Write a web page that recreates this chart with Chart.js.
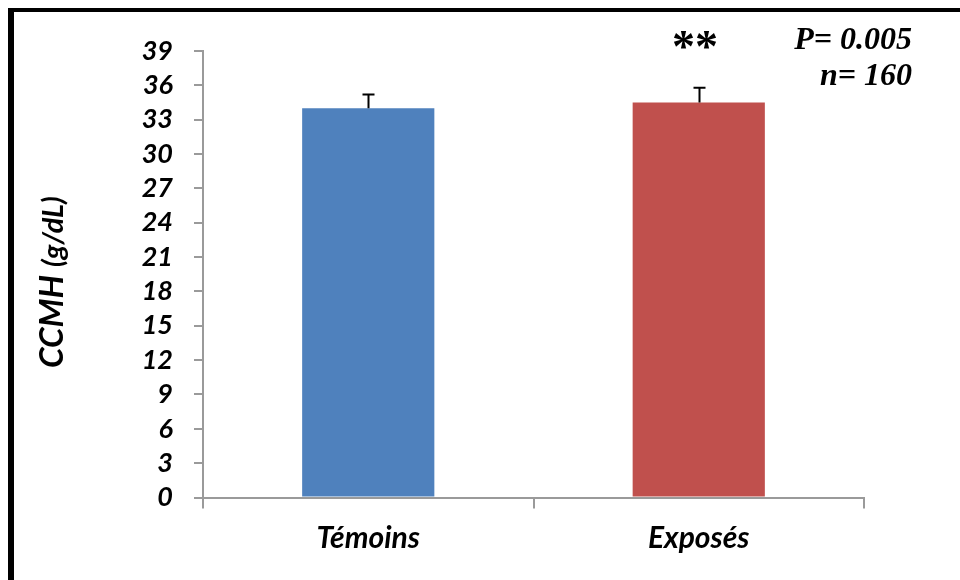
<!DOCTYPE html>
<html>
<head>
<meta charset="utf-8">
<script src="https://cdn.jsdelivr.net/npm/chart.js@4"></script>
<style>
  html,body{margin:0;padding:0;background:#fff;}
  #wrap{position:relative;width:960px;height:580px;}
</style>
</head>
<body>
<div id="wrap"><canvas id="chart" width="960" height="580"></canvas></div>
<script>
  const groups = ['Témoins', 'Exposés'];
  const means = [34.0, 34.5];
  const errTop = [35.2, 35.8];
  const barColors = ['#4F81BD', '#C0504D'];
  const yMin = 0, yMax = 39, yStep = 3;

  const tickFont = {family:'Lato', size:27, weight:'bold', style:'italic'};
  const axisGrey = '#9a9a9a';

  // black frame (left + top edges only visible in the original)
  const framePlugin = {
    id:'frame',
    beforeDraw(chart){
      const c = chart.ctx;
      c.save();
      c.fillStyle = '#000';
      c.fillRect(8, 8, 6, 572);
      c.fillRect(8, 8, 952, 4);
      c.restore();
    }
  };

  // error bars (upper only)
  const errPlugin = {
    id:'errbars',
    afterDatasetsDraw(chart){
      const c = chart.ctx, y = chart.scales.y;
      const meta = chart.getDatasetMeta(0);
      c.save();
      c.strokeStyle = '#000';
      c.lineWidth = 2;
      meta.data.forEach((bar, i)=>{
        const x = Math.round(bar.x) + 0.5;
        const y0 = y.getPixelForValue(means[i]);
        const y1 = y.getPixelForValue(errTop[i]);
        c.beginPath();
        c.moveTo(x, y0); c.lineTo(x, y1);
        c.moveTo(x-6, y1); c.lineTo(x+6, y1);
        c.stroke();
      });
      c.restore();
    }
  };

  // y title with mixed sizes + annotations
  const textPlugin = {
    id:'texts',
    afterDraw(chart){
      const c = chart.ctx;
      c.save();
      c.fillStyle = '#000';
      c.translate(63, 368);
      c.rotate(-Math.PI/2);
      c.textBaseline = 'alphabetic';
      c.textAlign = 'left';
      c.font = 'italic bold 33px Lato';
      c.fillText('CCMH', 0, 0);
      const w = c.measureText('CCMH').width + 8;
      c.font = 'italic bold 29px Lato';
      c.fillText('(g/dL)', w, 0);
      c.restore();

      c.save();
      c.fillStyle = '#000';
      c.font = 'bold 46px "Liberation Serif"';
      c.textAlign = 'center';
      c.textBaseline = 'alphabetic';
      c.fillText('**', 695, 62);
      c.font = 'italic bold 32px "Liberation Serif"';
      c.textAlign = 'right';
      c.fillText('P= 0.005', 912, 49);
      c.fillText('n= 160', 912, 85);
      c.restore();
    }
  };

  new Chart(document.getElementById('chart'), {
    type:'bar',
    data:{
      labels:groups,
      datasets:[{
        data:means,
        backgroundColor:barColors,
        borderWidth:0,
        barPercentage:0.4,
        categoryPercentage:1.0
      }]
    },
    options:{
      responsive:false,
      animation:false,
      layout:{padding:{top:51, right:96, bottom:0, left:0}},
      plugins:{legend:{display:false}, tooltip:{enabled:false}},
      scales:{
        x:{
          afterFit(s){ s.height = 82.5; },
          grid:{drawOnChartArea:false, drawTicks:true, tickLength:11, color:axisGrey, lineWidth:2, offset:true},
          border:{color:axisGrey, width:2},
          ticks:{color:'#000', font:{family:'Lato', size:30, weight:'bold', style:'italic'}, padding:12}
        },
        y:{
          min:yMin, max:yMax,
          afterFit(s){ s.width = 203; },
          grid:{drawOnChartArea:false, drawTicks:true, tickLength:9, color:axisGrey, lineWidth:2},
          border:{color:axisGrey, width:2},
          ticks:{stepSize:yStep, autoSkip:false, color:'#000', font:tickFont, padding:21}
        }
      }
    },
    plugins:[framePlugin, errPlugin, textPlugin]
  });
</script>
</body>
</html>
